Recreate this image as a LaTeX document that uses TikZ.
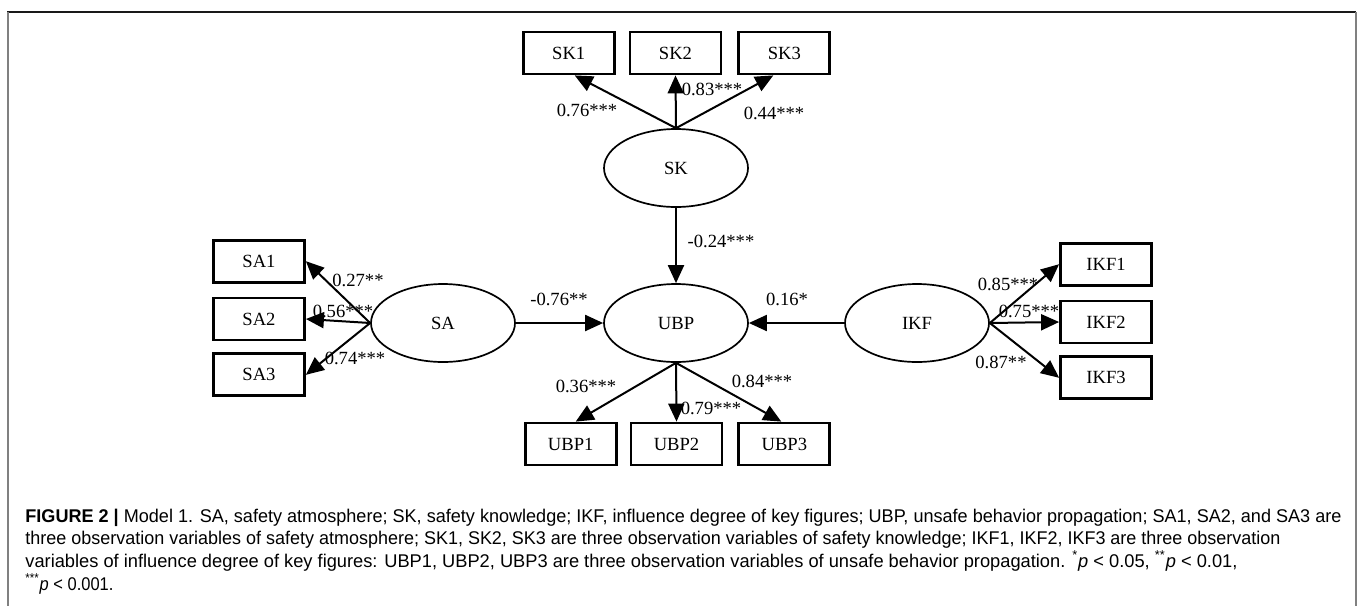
\documentclass[tikz,border=0pt]{standalone}
\usepackage{fontspec}
\setmainfont{Liberation Serif}
\newfontfamily\capfont{Liberation Sans}
\usetikzlibrary{shapes.geometric,arrows.meta,positioning}
\providecommand{\capline}{}
\renewcommand{\capline}[2]{\resizebox{#1}{\height}{#2}}

\begin{document}
\begin{tikzpicture}[x=0.5pt,y=-0.5pt,
  font=\fontsize{9.3}{11}\selectfont,
  obs/.style={draw,line width=1.4pt,minimum width=45.5pt,minimum height=21pt,inner sep=0pt},
  lat/.style={draw,ellipse,line width=0.85pt,minimum width=72pt,minimum height=39pt,inner sep=0pt},
  coef/.style={inner sep=0pt},
  ar/.style={-{Triangle[length=9pt,width=8pt]},line width=1pt},
  captxt/.style={anchor=base west,inner sep=0pt,font=\capfont\fontsize{9.2}{11}\selectfont}]
\useasboundingbox (0,0) rectangle (1358,606);

% frame of the figure panel (open at the bottom)
\draw[black!90,line width=0.6pt] (7,12) -- (1356,12);
\draw[gray,line width=0.8pt] (8,12) -- (8,606);
\draw[gray,line width=0.8pt] (1356,12) -- (1356,606);

% latent variables
\node[lat] (sk)  at (676,168) {SK};
\node[lat] (ubp) at (676,323) {UBP};
\node[lat] (sa)  at (443,323) {SA};
\node[lat] (ikf) at (917,323) {IKF};

% observed variables
\node[obs] (sk2) at (675.5,53) {SK2};
\node[obs,left=6.5pt of sk2]  (sk1) {SK1};
\node[obs,right=7.5pt of sk2] (sk3) {SK3};

\node[obs] (ubp2) at (676.5,444) {UBP2};
\node[obs,left=6pt of ubp2]  (ubp1) {UBP1};
\node[obs,right=7pt of ubp2] (ubp3) {UBP3};

\node[obs] (sa2) at (259,319) {SA2};
\node[obs,above=6.5pt of sa2] (sa1) {SA1};
\node[obs,below=5.5pt of sa2] (sa3) {SA3};

\node[obs] (ikf2) at (1106,322) {IKF2};
\node[obs,above=6.5pt of ikf2] (ikf1) {IKF1};
\node[obs,below=5.5pt of ikf2] (ikf3) {IKF3};

% loadings
\foreach \b/\dx in {sk1/3pt, sk2/0pt, sk3/-5.5pt} \draw[ar] (sk.north) -- ([xshift=\dx]\b.south);
\foreach \b/\dx in {ubp1/2.5pt, ubp2/0pt, ubp3/-1.5pt} \draw[ar] (ubp.south) -- ([xshift=\dx]\b.north);
\foreach \b in {sa1,sa2,sa3} \draw[ar] (sa.west) -- (\b.east);
\foreach \b in {ikf1,ikf2,ikf3} \draw[ar] (ikf.east) -- (\b.west);

% structural paths
\draw[ar] (sk) -- (ubp);
\draw[ar] (sa) -- (ubp);
\draw[ar] (ikf) -- (ubp);

% coefficients
\node[coef] (c-sk1)  at (587,110)  {0.76***};
\node[coef] (c-sk2)  at (712,89)   {0.83***};
\node[coef] (c-sk3)  at (774,113)  {0.44***};
\node[coef] (c-sk)   at (721,241)  {-0.24***};
\node[coef] (c-sa1)  at (358,280)  {0.27**};
\node[coef] (c-sa2)  at (343,311)  {0.56***};
\node[coef] (c-sa3)  at (355,358)  {0.74***};
\node[coef] (c-sa)   at (559,299)  {-0.76**};
\node[coef] (c-ikf)  at (787,299)  {0.16*};
\node[coef] (c-ikf1) at (1008,284) {0.85***};
\node[coef] (c-ikf2) at (1029,311) {0.75***};
\node[coef] (c-ikf3) at (1001,362) {0.87**};
\node[coef] (c-ubp1) at (586,386)  {0.36***};
\node[coef] (c-ubp2) at (711,408)  {0.79***};
\node[coef] (c-ubp3) at (762,381)  {0.84***};

% caption, one node per printed line
\node[captxt] (cap1) at (25,522) {\capline{658pt}{\textbf{FIGURE 2 |} Model 1. SA, safety atmosphere; SK, safety knowledge; IKF, influence degree of key figures; UBP, unsafe behavior propagation; SA1, SA2, and SA3 are}};
\node[captxt] (cap2) at (25,544.5) {\capline{627.5pt}{three observation variables of safety atmosphere; SK1, SK2, SK3 are three observation variables of safety knowledge; IKF1, IKF2, IKF3 are three observation}};
\node[captxt] (cap3) at (25,567) {\capline{606pt}{variables of influence degree of key figures: UBP1, UBP2, UBP3 are three observation variables of unsafe behavior propagation. \textsuperscript{*}\textit{p} < 0.05, \textsuperscript{**}\textit{p} < 0.01,}};
\node[captxt] (cap4) at (25,590) {\capline{44pt}{\textsuperscript{***}\textit{p} < 0.001.}};
\end{tikzpicture}
\end{document}
